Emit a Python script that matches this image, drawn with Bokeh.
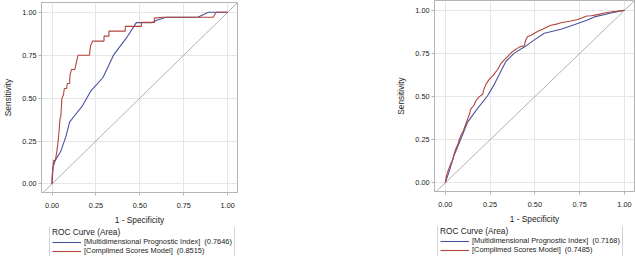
from bokeh.plotting import figure
from bokeh.layouts import row, column
from bokeh.models import (Range1d, Legend, LegendItem, FixedTicker,
                          NumeralTickFormatter, GlobalInlineStyleSheet)
from bokeh.embed import file_html
from bokeh.resources import INLINE

# ---------------- data ----------------
ticks = [0.0, 0.25, 0.50, 0.75, 1.0]
diag = [-0.1, 1.1]

# Left panel
mpi_fpr_1 = [0, 0.006, 0.02, 0.05, 0.08, 0.10, 0.13, 0.17, 0.22, 0.29, 0.35,
             0.43, 0.48, 0.51, 0.57, 0.60, 0.65, 0.83, 0.89, 1.0]
mpi_tpr_1 = [0, 0.10, 0.14, 0.19, 0.28, 0.36, 0.40, 0.45, 0.54, 0.62, 0.75,
             0.86, 0.94, 0.94, 0.94, 0.955, 0.971, 0.971, 1.0, 1.0]
csm_fpr_1 = [0, 0, 0.009, 0.019, 0.028, 0.037, 0.046, 0.05, 0.056, 0.065,
             0.07, 0.083, 0.087, 0.10, 0.102, 0.111, 0.13, 0.148, 0.213, 0.219,
             0.231, 0.296, 0.296, 0.324, 0.324, 0.417, 0.417, 0.509, 0.509,
             0.583, 0.583, 0.63, 0.917, 0.935, 1.0]
csm_tpr_1 = [0, 0.04, 0.137, 0.137, 0.194, 0.27, 0.385, 0.39, 0.499, 0.518,
             0.556, 0.556, 0.585, 0.585, 0.632, 0.667, 0.667, 0.75, 0.75, 0.804,
             0.832, 0.832, 0.861, 0.861, 0.89, 0.89, 0.918, 0.918, 0.941,
             0.941, 0.966, 0.971, 0.971, 1.0, 1.0]
labels_1 = ["[Multidimensional Prognostic Index]  (0.7646)",
            "[Complimed Scores Model]  (0.8515)"]

# Right panel
mpi_fpr_2 = [0, 0.022, 0.05, 0.088, 0.125, 0.171, 0.236, 0.274, 0.311, 0.339,
             0.385, 0.441, 0.497, 0.553, 0.646, 0.739, 0.79, 0.832, 0.926, 1.0]
mpi_tpr_2 = [0, 0.067, 0.162, 0.257, 0.352, 0.419, 0.505, 0.571, 0.648, 0.705,
             0.752, 0.787, 0.829, 0.867, 0.89, 0.924, 0.943, 0.962, 0.985, 1.0]
csm_fpr_2 = [0, 0.005, 0.009, 0.016, 0.022, 0.03, 0.041, 0.05, 0.06, 0.069,
             0.078, 0.088, 0.1, 0.115, 0.125, 0.135, 0.143, 0.16, 0.171, 0.19,
             0.209, 0.215, 0.227, 0.245, 0.264, 0.28, 0.292, 0.31, 0.33, 0.35,
             0.376, 0.39, 0.404, 0.42, 0.441, 0.45, 0.46, 0.48, 0.497, 0.52,
             0.544, 0.57, 0.59, 0.62, 0.646, 0.7, 0.739, 0.79, 0.814, 0.85,
             0.888, 0.94, 1.0]
csm_tpr_2 = [0, 0.03, 0.048, 0.07, 0.086, 0.11, 0.133, 0.17, 0.20, 0.219,
             0.25, 0.276, 0.30, 0.343, 0.37, 0.40, 0.429, 0.45, 0.476, 0.50,
             0.514, 0.54, 0.571, 0.60, 0.619, 0.64, 0.657, 0.69, 0.714, 0.735,
             0.762, 0.772, 0.781, 0.79, 0.794, 0.83, 0.848, 0.856, 0.867, 0.88,
             0.89, 0.905, 0.914, 0.92, 0.928, 0.938, 0.947, 0.967, 0.969, 0.975,
             0.985, 0.993, 1.0]
labels_2 = ["[Multidimensional Prognostic Index]  (0.7168)",
            "[Complimed Scores Model]  (0.7485)"]

legend_title = "ROC Curve (Area)"
x_label = "1 - Specificity"
y_label = "Sensitivity"

BLUE = "#48549c"
RED = "#b0463c"
FONT = "Liberation Sans"


def make_plot(width, height, mbl, mbr, mbt, mbb, mfx, mty, cfx, cty):
    p = figure(width=width, height=height, output_backend="svg",
               toolbar_location=None,
               x_range=Range1d(-0.06, 1.056), y_range=Range1d(-0.05, 1.057),
               min_border_left=mbl, min_border_right=mbr,
               min_border_top=mbt, min_border_bottom=mbb)
    p.outline_line_color = "#b4b4b4"
    p.background_fill_color = "white"
    p.border_fill_color = "white"
    for ax in (p.xaxis[0], p.yaxis[0]):
        ax.ticker = FixedTicker(ticks=ticks)
        ax.formatter = NumeralTickFormatter(format="0.00")
        ax.axis_line_color = "#b4b4b4"
        ax.major_tick_line_color = "#b4b4b4"
        ax.major_tick_out = 3
        ax.major_tick_in = 0
        ax.minor_tick_line_color = None
        ax.major_label_text_font = FONT
        ax.major_label_text_font_size = "7.3px"
        ax.major_label_text_color = "#222222"
        ax.axis_label_text_font = FONT
        ax.axis_label_text_font_size = "8.3px"
        ax.axis_label_text_font_style = "normal"
        ax.axis_label_text_color = "#222222"
    p.xaxis.major_label_standoff = 7
    p.xaxis.axis_label_standoff = 4
    p.yaxis.major_label_standoff = 2
    p.yaxis.axis_label_standoff = 6
    p.xaxis.axis_label = x_label
    p.yaxis.axis_label = y_label
    p.yaxis.major_label_orientation = "horizontal"
    p.xgrid.ticker = FixedTicker(ticks=ticks)
    p.ygrid.ticker = FixedTicker(ticks=ticks)
    p.xgrid.grid_line_color = "#e6e6e6"
    p.ygrid.grid_line_color = "#e6e6e6"

    p.line(diag, diag, line_color="#a8a8a8", line_width=0.9)
    p.line(mfx, mty, line_color=BLUE, line_width=1.1)
    p.line(cfx, cty, line_color=RED, line_width=1.1)
    return p


def make_legend(width, height, mbl, mbr, labels, loc, mfx, mty, cfx, cty):
    q = figure(width=width, height=height, output_backend="svg",
               toolbar_location=None, x_axis_type=None, y_axis_type=None,
               x_range=Range1d(0, 1), y_range=Range1d(0, 1),
               min_border_left=mbl, min_border_right=mbr,
               min_border_top=0, min_border_bottom=0)
    q.outline_line_color = None
    q.xgrid.visible = False
    q.ygrid.visible = False
    q.background_fill_color = "white"
    q.border_fill_color = "white"
    # hidden renderers that only provide the legend keys
    rb = q.line(mfx, mty, line_color=BLUE, line_width=1.1, visible=False)
    rr = q.line(cfx, cty, line_color=RED, line_width=1.1, visible=False)
    lg = Legend(items=[LegendItem(label=labels[0], renderers=[rb]),
                       LegendItem(label=labels[1], renderers=[rr])],
                location=loc, title=legend_title,
                title_text_font=FONT, title_text_font_size="8.3px",
                title_text_font_style="normal", title_text_color="#222222",
                title_standoff=0,
                label_text_font=FONT, label_text_font_size="7.4px",
                label_text_color="#222222",
                glyph_width=29, glyph_height=8, label_height=8,
                label_standoff=3, spacing=0, padding=2, margin=0,
                inactive_fill_alpha=0,
                border_line_color="#a8a8a8", border_line_width=1,
                background_fill_color="white", background_fill_alpha=1.0)
    q.add_layout(lg)
    return q


p1 = make_plot(318, 227, 36, 81, 2, 32, mpi_fpr_1, mpi_tpr_1, csm_fpr_1, csm_tpr_1)
l1 = make_legend(318, 29, 36, 81, labels_1, (8, -2),
                 mpi_fpr_1, mpi_tpr_1, csm_fpr_1, csm_tpr_1)
p2 = make_plot(317, 226, 116, 1, 0, 32, mpi_fpr_2, mpi_tpr_2, csm_fpr_2, csm_tpr_2)
l2 = make_legend(317, 30, 116, 1, labels_2, (3, -1),
                 mpi_fpr_2, mpi_tpr_2, csm_fpr_2, csm_tpr_2)

layout = row(column(p1, l1), column(p2, l2))
layout.stylesheets = [GlobalInlineStyleSheet(css="body{margin:0 !important;}")]

open("out.html", "w").write(file_html(layout, INLINE))
